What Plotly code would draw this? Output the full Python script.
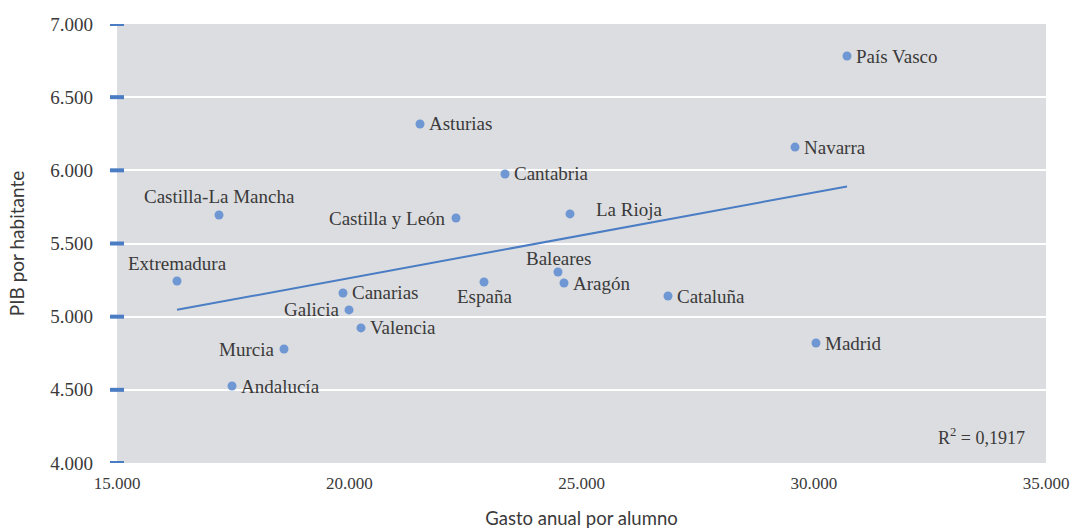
import numpy as np
import plotly.graph_objects as go

regions = ["País Vasco", "Navarra", "Asturias", "Cantabria", "Castilla-La Mancha",
           "Castilla y León", "La Rioja", "Extremadura", "Baleares", "España", "Aragón",
           "Canarias", "Galicia", "Cataluña", "Valencia", "Murcia", "Madrid", "Andalucía"]
gasto = [30716, 29597, 21523, 23353, 17196, 22298, 24752, 16292, 24494, 22901, 24623,
         19865, 19995, 26862, 20253, 18595, 30048, 17476]
pib = [6781, 6159, 6317, 5975, 5695, 5674, 5702, 5244, 5305, 5237, 5230,
       5162, 5046, 5141, 4923, 4779, 4820, 4526]
y_ticks = [4000, 4500, 5000, 5500, 6000, 6500, 7000]
x_ticks = [15000, 20000, 25000, 30000, 35000]
r2_text = "R<sup>2</sup> = 0,1917"
x_title = "Gasto anual por alumno"
y_title = "PIB por habitante"

# label placement (style): xanchor, yanchor, xshift, yshift
label_pos = {
    "Castilla-La Mancha": ("center", "bottom", 0, 6),
    "Extremadura": ("center", "bottom", 0, 5),
    "Baleares": ("center", "bottom", 0, 1),
    "España": ("center", "top", 0, -2),
    "Castilla y León": ("right", "middle", -8, 0),
    "Galicia": ("right", "middle", -8, 0),
    "Murcia": ("right", "middle", -8, 0),
    "La Rioja": ("left", "middle", 24, 4),
}

BLUE = "#4a7dc4"
PT = "#6f97d3"
TXT = "#3a3a3a"
SERIF = "Liberation Serif, serif"

W, H = 1073, 529
ML, MR, MT, MB = 117, 27, 24, 66
plot_w = W - ML - MR

fig = go.Figure()

# trendline via least squares
xs = np.array(gasto, dtype=float)
ys = np.array(pib, dtype=float)
m, c = np.polyfit(xs, ys, 1)
xl = np.array([xs.min(), xs.max()])
fig.add_trace(go.Scatter(x=xl, y=m * xl + c, mode="lines",
                         line=dict(color=BLUE, width=2), hoverinfo="skip"))

fig.add_trace(go.Scatter(x=gasto, y=pib, mode="markers",
                         marker=dict(color=PT, size=9), text=regions))

for r, x, y in zip(regions, gasto, pib):
    xa, ya, xsft, ysft = label_pos.get(r, ("left", "middle", 7, 0))
    fig.add_annotation(x=x, y=y, text=r, showarrow=False, xanchor=xa, yanchor=ya,
                       xshift=xsft, yshift=ysft,
                       font=dict(family=SERIF, size=19, color=TXT))

fig.add_annotation(xref="paper", yref="paper", x=0.98, y=0.03, xanchor="right",
                   yanchor="bottom", text=r2_text, showarrow=False,
                   font=dict(family=SERIF, size=18, color=TXT))

# tick dashes straddling the left edge of the plot
for v in y_ticks:
    fig.add_shape(type="line", xref="paper", yref="y", x0=-7 / plot_w, x1=7 / plot_w,
                  y0=v, y1=v, line=dict(color=BLUE, width=4), layer="above")

fig.update_layout(
    width=W, height=H,
    margin=dict(l=ML, r=MR, t=MT, b=MB, autoexpand=False),
    paper_bgcolor="white",
    plot_bgcolor="#dcdde0",
    showlegend=False,
    separators=",.",
    font=dict(family=SERIF, color=TXT),
)
fig.update_xaxes(range=[15000, 35000], tickvals=x_ticks, tickformat=",d", showgrid=False,
                 zeroline=False, showline=False, ticks="", automargin=False,
                 tickfont=dict(family=SERIF, size=17, color=TXT),
                 ticklabelstandoff=8,
                 title=dict(text=x_title, standoff=21,
                            font=dict(family="Lato", size=18.5, color=TXT)))
fig.update_yaxes(range=[4000, 7000], tickvals=y_ticks, tickformat=",d", showgrid=True,
                 gridcolor="white", gridwidth=1.5, zeroline=False, showline=False,
                 ticks="", automargin=False, ticklabelstandoff=23,
                 tickfont=dict(family=SERIF, size=19, color=TXT),
                 title=dict(text=y_title, standoff=20,
                            font=dict(family="Lato", size=19, color=TXT)))

fig.write_html("out.html", config={"displayModeBar": False},
               post_script="document.body.style.margin='0';"
                           "document.body.style.overflow='hidden';")
